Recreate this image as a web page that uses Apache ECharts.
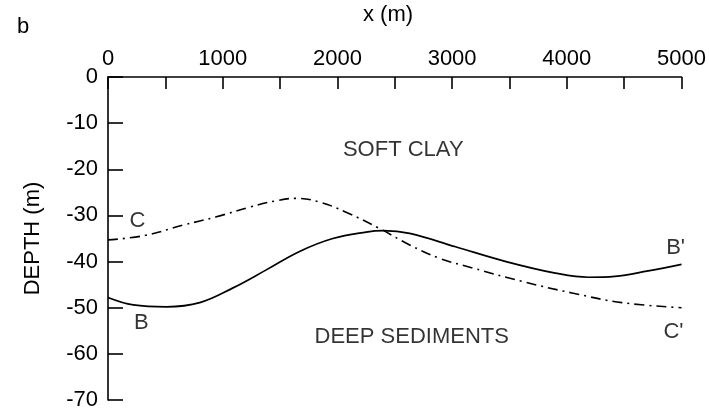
<!DOCTYPE html>
<html>
<head>
<meta charset="utf-8">
<script src="https://cdn.jsdelivr.net/npm/echarts@6/dist/echarts.min.js"></script>
<style>
  html, body { margin: 0; padding: 0; background: #fff; }
  #chart { width: 709px; height: 411px; }
</style>
</head>
<body>
<div id="chart"></div>
<script>
// Horizontal distance along the profile (m) and depth (m) of each interface
const profileBB = [
  [0, -47.8], [220, -49.4], [510, -49.8], [800, -48.9], [1090, -45.7],
  [1380, -41.8], [1670, -37.8], [1960, -35.0], [2250, -33.6], [2400, -33.3],
  [2630, -33.9], [3030, -36.8], [3470, -40.0], [3900, -42.5], [4190, -43.4],
  [4420, -43.2], [4710, -42.0], [5000, -40.6]
];
const profileCC = [
  [0, -35.3], [310, -34.4], [655, -32.1], [945, -30.3], [1235, -28.2],
  [1470, -26.8], [1640, -26.3], [1845, -27.1], [2075, -29.3], [2365, -32.8],
  [2630, -36.4], [2890, -39.3], [3180, -41.4], [3610, -44.3], [4045, -46.8],
  [4480, -48.9], [5000, -50.0]
];
// Text annotations placed at data coordinates
const annotations = [
  { name: 'C', value: [257, -31.3] },
  { name: 'B', value: [291, -53.2] },
  { name: "B'", value: [4948, -37.1] },
  { name: "C'", value: [4930, -55.2] },
  { name: 'SOFT CLAY', value: [2574, -15.7] },
  { name: 'DEEP SEDIMENTS', value: [2648, -56.4] }
];
const xTicks = [0, 1000, 2000, 3000, 4000, 5000];

const FONT = '"Liberation Sans", Arial, Helvetica, sans-serif';
const chart = echarts.init(document.getElementById('chart'), null, { renderer: 'canvas' });

chart.setOption({
  animation: false,
  backgroundColor: '#fff',
  textStyle: { fontFamily: FONT, color: '#000' },
  grid: { left: 108, top: 77, right: 26, bottom: 8, containLabel: false },
  graphic: [
    { type: 'text', left: 17, top: 16, style: { text: 'b', font: '22px ' + FONT, fill: '#000' } },
    { type: 'text', left: 363, top: 4, style: { text: 'x (m)', font: '22px ' + FONT, fill: '#000' } }
  ],
  xAxis: {
    type: 'value',
    position: 'top',
    min: 0, max: 5000, interval: 500,
    splitLine: { show: false },
    axisLine: { show: true, onZero: false, lineStyle: { color: '#000', width: 1.6 } },
    axisTick: { show: true, inside: true, length: 12, lineStyle: { color: '#000', width: 1.6 } },
    axisLabel: {
      margin: 7, fontSize: 22, fontFamily: FONT, color: '#000',
      formatter: v => xTicks.includes(v) ? String(v) : ''
    }
  },
  yAxis: {
    type: 'value',
    min: -70, max: 0, interval: 10,
    name: 'DEPTH (m)',
    nameLocation: 'middle',
    nameRotate: 90,
    nameGap: 64,
    nameTextStyle: { fontSize: 22, fontFamily: FONT, color: '#000' },
    splitLine: { show: false },
    axisLine: { show: true, onZero: false, lineStyle: { color: '#000', width: 1.6 } },
    axisTick: { show: true, inside: true, length: 15, lineStyle: { color: '#000', width: 1.6 } },
    axisLabel: { margin: 10, fontSize: 22, fontFamily: FONT, color: '#000' }
  },
  series: [
    {
      name: 'B-B\'',
      type: 'line',
      data: profileBB,
      smooth: 0.4,
      symbol: 'none',
      lineStyle: { color: '#000', width: 1.7 }
    },
    {
      name: 'C-C\'',
      type: 'line',
      data: profileCC,
      smooth: 0.4,
      symbol: 'none',
      lineStyle: { color: '#000', width: 1.6, type: [10, 5, 2, 5] }
    },
    {
      name: 'labels',
      type: 'scatter',
      data: annotations,
      symbolSize: 0,
      silent: true,
      label: {
        show: true,
        position: 'inside',
        formatter: p => p.name,
        fontSize: 22,
        fontFamily: FONT,
        color: '#000'
      }
    }
  ]
});
</script>
</body>
</html>
